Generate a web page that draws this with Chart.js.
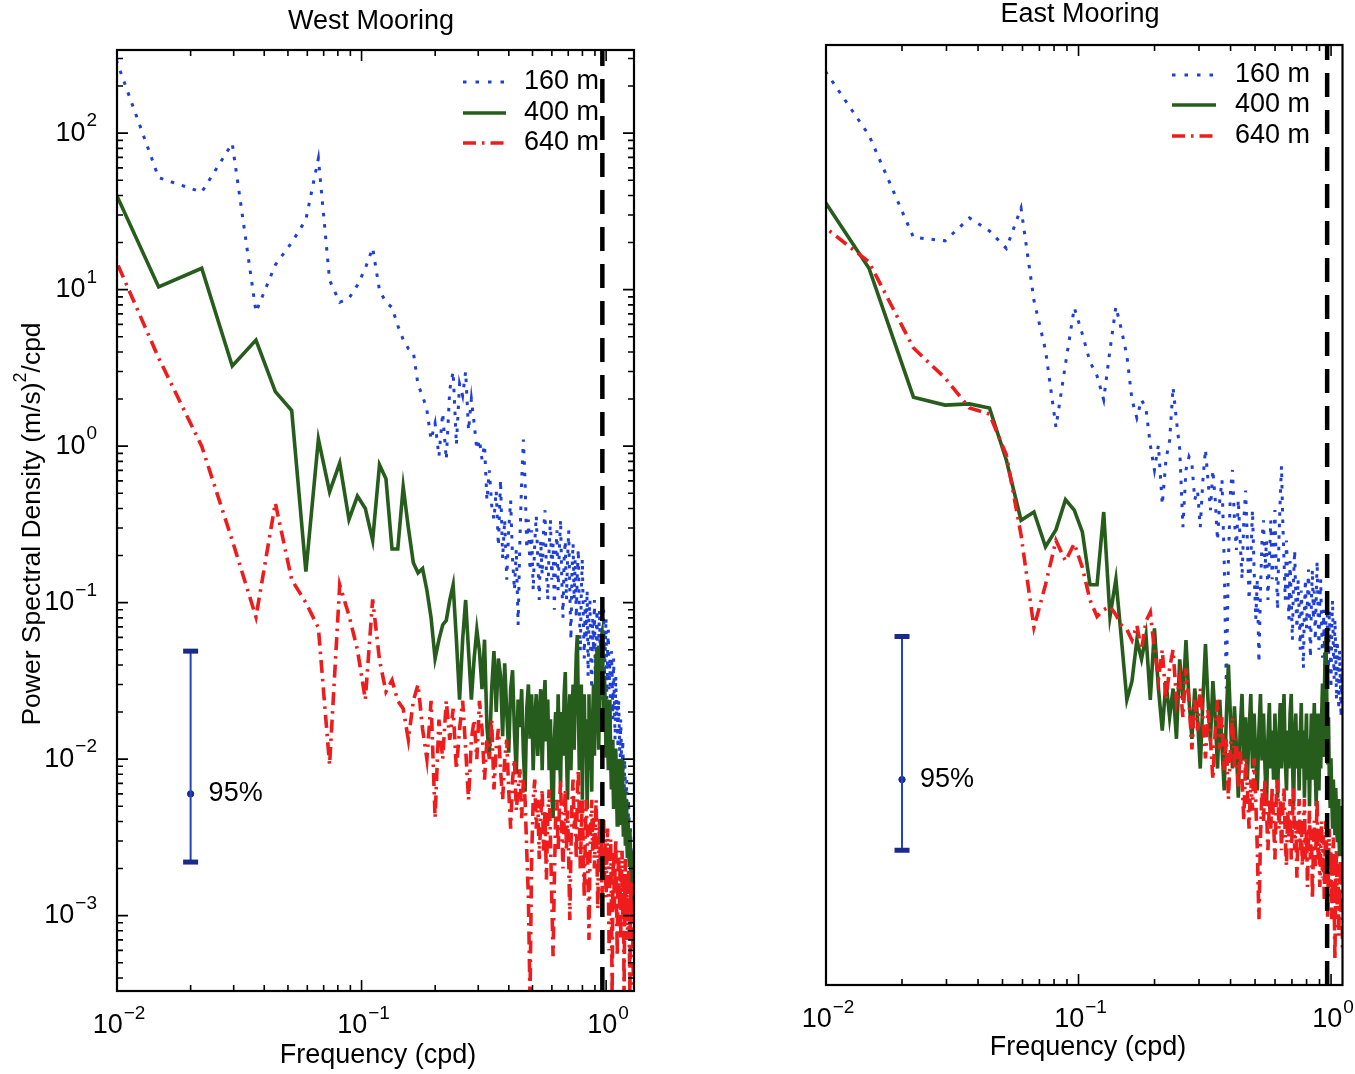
<!DOCTYPE html>
<html>
<head>
<meta charset="utf-8">
<title>Power spectra, West and East moorings</title>
<script src="https://cdn.jsdelivr.net/npm/chart.js@4.4.1/dist/chart.umd.min.js"></script>
<style>
  html, body { margin: 0; padding: 0; background: #ffffff; }
  #wrap { position: relative; width: 1355px; height: 1074px; overflow: hidden; background: #fff; }
  canvas { position: absolute; top: 0; }
  #west { left: 0; }
  #east { left: 680px; }
</style>
</head>
<body>
<div id="wrap">
  <canvas id="west" width="680" height="1074"></canvas>
  <canvas id="east" width="675" height="1074"></canvas>
</div>
<script>
// Spectral estimate frequencies (cpd), resolution 0.0074 cpd
const freqCpd = [
  0.0074, 0.0148, 0.0222, 0.0296, 0.0370, 0.0444, 0.0518, 0.0592, 0.0666, 0.0740,
  0.0814, 0.0888, 0.0962, 0.1036, 0.1110, 0.1184, 0.1258, 0.1332, 0.1406, 0.1480,
  0.1554, 0.1628, 0.1702, 0.1776, 0.1850, 0.1924, 0.1998, 0.2072, 0.2146, 0.2220,
  0.2294, 0.2368, 0.2442, 0.2516, 0.2590, 0.2664, 0.2738, 0.2812, 0.2886, 0.2960,
  0.3034, 0.3108, 0.3182, 0.3256, 0.3330, 0.3404, 0.3478, 0.3552, 0.3626, 0.3700,
  0.3774, 0.3848, 0.3922, 0.3996, 0.4070, 0.4144, 0.4218, 0.4292, 0.4366, 0.4440,
  0.4514, 0.4588, 0.4662, 0.4736, 0.4810, 0.4884, 0.4958, 0.5032, 0.5106, 0.5180,
  0.5254, 0.5328, 0.5402, 0.5476, 0.5550, 0.5624, 0.5698, 0.5772, 0.5846, 0.5920,
  0.5994, 0.6068, 0.6142, 0.6216, 0.6290, 0.6364, 0.6438, 0.6512, 0.6586, 0.6660,
  0.6734, 0.6808, 0.6882, 0.6956, 0.7030, 0.7104, 0.7178, 0.7252, 0.7326, 0.7400,
  0.7474, 0.7548, 0.7622, 0.7696, 0.7770, 0.7844, 0.7918, 0.7992, 0.8066, 0.8140,
  0.8214, 0.8288, 0.8362, 0.8436, 0.8510, 0.8584, 0.8658, 0.8732, 0.8806, 0.8880,
  0.8954, 0.9028, 0.9102, 0.9176, 0.9250, 0.9324, 0.9398, 0.9472, 0.9546, 0.9620,
  0.9694, 0.9768, 0.9842, 0.9916, 0.9990, 1.0064, 1.0138, 1.0212, 1.0286, 1.0360,
  1.0434, 1.0508, 1.0582, 1.0656, 1.0730, 1.0804, 1.0878, 1.0952, 1.1026, 1.1100,
  1.1174, 1.1248, 1.1322, 1.1396, 1.1470, 1.1544, 1.1618, 1.1692, 1.1766, 1.1840,
  1.1914, 1.1988, 1.2062, 1.2136, 1.2210, 1.2284, 1.2358, 1.2432, 1.2506, 1.2580,
  1.2654, 1.2728, 1.2802, 1.2876, 1.2950
];

// West mooring PSD, (m/s)^2/cpd
const west160 = [
  1050, 52, 42, 86, 7.2, 14.4, 20, 28, 69, 11.5,
  8.3, 8.8, 10.7, 13.7, 18.5, 9.9, 8.3, 7.7, 5.9, 4.8,
  4.2, 4.0, 2.45, 2.1, 1.7, 1.1, 1.4, 0.86, 1.63, 0.82,
  2.3, 3.0, 1.02, 2.5, 2.1, 3.0, 1.26, 2.0, 1.4, 0.95,
  1.1, 0.82, 1.02, 0.45, 0.7, 0.42, 0.34, 0.52, 0.23, 0.61,
  0.19, 0.34, 0.14, 0.29, 0.45, 0.19, 0.12, 0.22, 0.072, 0.25,
  0.6, 1.1, 0.6, 0.22, 0.34, 0.16, 0.29, 0.12, 0.24, 0.36,
  0.19, 0.104, 0.25, 0.15, 0.29, 0.39, 0.16, 0.104, 0.22, 0.34,
  0.14, 0.24, 0.09, 0.19, 0.29, 0.12, 0.22, 0.34, 0.14, 0.08,
  0.19, 0.25, 0.104, 0.19, 0.29, 0.12, 0.058, 0.16, 0.24, 0.104,
  0.19, 0.08, 0.15, 0.22, 0.09, 0.049, 0.12, 0.19, 0.08, 0.044,
  0.104, 0.058, 0.12, 0.034, 0.08, 0.104, 0.044, 0.028, 0.08, 0.049,
  0.104, 0.034, 0.058, 0.09, 0.028, 0.058, 0.09, 0.037, 0.067, 0.024,
  0.058, 0.09, 0.034, 0.049, 0.08, 0.024, 0.049, 0.067, 0.028, 0.044,
  0.018, 0.049, 0.034, 0.018, 0.044, 0.024, 0.0133, 0.034, 0.018, 0.024,
  0.0117, 0.024, 0.0156, 0.0086, 0.018, 0.0117, 0.0064, 0.0133, 0.0086, 0.0055,
  0.010, 0.0064, 0.0042, 0.0074, 0.0047, 0.0031, 0.0055, 0.0036, 0.0023, 0.0036,
  0.0026, 0.0017, 0.0026, 0.002, 0.0015
];
const west400 = [
  111, 10.4, 13.7, 3.25, 4.76, 2.23, 1.69, 0.158, 1.11, 0.51,
  0.78, 0.34, 0.48, 0.40, 0.25, 0.76, 0.62, 0.22, 0.22, 0.55,
  0.3, 0.18, 0.155, 0.165, 0.12, 0.08, 0.044, 0.058, 0.072, 0.077,
  0.104, 0.13, 0.058, 0.024, 0.058, 0.104, 0.049, 0.024, 0.044, 0.067,
  0.049, 0.028, 0.058, 0.016, 0.0105, 0.028, 0.049, 0.02, 0.044, 0.034,
  0.014, 0.041, 0.02, 0.011, 0.028, 0.037, 0.015, 0.008, 0.024, 0.016,
  0.028, 0.011, 0.0062, 0.021, 0.03, 0.0135, 0.026, 0.0085, 0.018, 0.026,
  0.0105, 0.018, 0.028, 0.0085, 0.021, 0.032, 0.013, 0.024, 0.0085, 0.018,
  0.0062, 0.0042, 0.0133, 0.02, 0.0085, 0.026, 0.0115, 0.007, 0.02, 0.0105,
  0.026, 0.036, 0.0115, 0.0055, 0.018, 0.026, 0.0085, 0.018, 0.03, 0.0115,
  0.026, 0.046, 0.062, 0.022, 0.0085, 0.018, 0.03, 0.0055, 0.0156, 0.026,
  0.0105, 0.018, 0.0048, 0.0133, 0.026, 0.0085, 0.0156, 0.0062, 0.018, 0.03,
  0.0105, 0.024, 0.046, 0.052, 0.022, 0.0115, 0.028, 0.046, 0.06, 0.064,
  0.034, 0.016, 0.034, 0.022, 0.0105, 0.024, 0.0145, 0.0085, 0.018, 0.024,
  0.0105, 0.0064, 0.0133, 0.0085, 0.0048, 0.010, 0.0056, 0.0117, 0.0064, 0.0038,
  0.0074, 0.0048, 0.010, 0.0056, 0.0038, 0.0064, 0.010, 0.0048, 0.0032, 0.0064,
  0.0044, 0.0028, 0.0055, 0.0033, 0.0024, 0.0042, 0.0029, 0.0021, 0.0036, 0.0024,
  0.0016, 0.0026, 0.0019, 0.0012, 0.0017
];
const west640 = [
  43.4, 3.66, 1.0, 0.25, 0.081, 0.434, 0.14, 0.1, 0.069, 0.0092,
  0.13, 0.083, 0.05, 0.024, 0.105, 0.043, 0.027, 0.032, 0.0236, 0.021,
  0.0133, 0.0236, 0.03, 0.0156, 0.010, 0.0236, 0.0042, 0.0179, 0.010, 0.0236,
  0.0133, 0.021, 0.0086, 0.0156, 0.0236, 0.0117, 0.0055, 0.0133, 0.0179, 0.010,
  0.0236, 0.0156, 0.0074, 0.0133, 0.010, 0.0179, 0.0064, 0.0117, 0.0156, 0.0086,
  0.0055, 0.010, 0.0133, 0.0064, 0.0036, 0.0074, 0.010, 0.0047, 0.0064, 0.0086,
  0.0042, 0.0074, 0.0055, 0.0026, 0.0013, 0.0003, 0.0023, 0.0055, 0.0074, 0.0036,
  0.0055, 0.0023, 0.0042, 0.0064, 0.0026, 0.0047, 0.0017, 0.0042, 0.0064, 0.0031,
  0.0013, 0.00055, 0.0017, 0.0042, 0.0055, 0.0026, 0.0047, 0.0074, 0.0036, 0.002,
  0.0042, 0.0064, 0.0026, 0.0047, 0.0023, 0.00094, 0.0026, 0.0055, 0.0074, 0.0036,
  0.0047, 0.0023, 0.0055, 0.0086, 0.0042, 0.002, 0.0036, 0.0055, 0.0026, 0.0013,
  0.0031, 0.0055, 0.0036, 0.0017, 0.0007, 0.0023, 0.0042, 0.0055, 0.0026, 0.0042,
  0.002, 0.0036, 0.0055, 0.0023, 0.0011, 0.0026, 0.0042, 0.002, 0.0031, 0.0013,
  0.0026, 0.0042, 0.0017, 0.0031, 0.0013, 0.0023, 0.0036, 0.0015, 0.0006, 0.002,
  0.0031, 0.0013, 0.0003, 0.0017, 0.0026, 0.0011, 0.002, 0.0031, 0.0013, 0.00055,
  0.0017, 0.0026, 0.0011, 0.002, 0.0007, 0.0017, 0.0026, 0.00094, 0.0017, 0.0003,
  0.0013, 0.0023, 0.00094, 0.0017, 0.0007, 0.0013, 0.002, 0.0008, 0.0003, 0.0013,
  0.0017, 0.0007, 0.0013, 0.00055, 0.00034
];

// East mooring PSD, (m/s)^2/cpd
const east160 = [
  465, 90, 20, 19, 26.6, 22, 17, 30.8, 7.9, 3.8,
  1.22, 3.1, 7.1, 4.8, 3.2, 2.6, 1.83, 3.8, 7.2, 5.1,
  3.5, 1.83, 1.4, 1.83, 1.6, 0.94, 0.65, 0.94, 0.39, 0.76,
  1.0, 2.2, 1.35, 0.88, 0.28, 0.65, 0.79, 0.71, 0.42, 0.48,
  0.28, 0.56, 0.88, 0.56, 0.36, 0.65, 0.42, 0.23, 0.42, 0.56,
  0.17, 0.026, 0.17, 0.48, 0.65, 0.31, 0.2, 0.42, 0.23, 0.13,
  0.31, 0.48, 0.23, 0.096, 0.17, 0.36, 0.15, 0.072, 0.13, 0.038,
  0.11, 0.23, 0.31, 0.15, 0.23, 0.096, 0.17, 0.31, 0.13, 0.2,
  0.36, 0.15, 0.083, 0.23, 0.42, 0.69, 0.31, 0.17, 0.096, 0.23,
  0.13, 0.072, 0.17, 0.096, 0.053, 0.13, 0.2, 0.096, 0.063, 0.13,
  0.083, 0.046, 0.11, 0.072, 0.035, 0.083, 0.13, 0.063, 0.096, 0.15,
  0.072, 0.041, 0.096, 0.15, 0.072, 0.11, 0.053, 0.096, 0.17, 0.083,
  0.046, 0.096, 0.13, 0.063, 0.041, 0.083, 0.053, 0.03, 0.072, 0.11,
  0.053, 0.035, 0.083, 0.053, 0.026, 0.063, 0.096, 0.046, 0.03, 0.072,
  0.046, 0.022, 0.053, 0.035, 0.019, 0.046, 0.03, 0.017, 0.035, 0.022,
  0.0124, 0.022
];
const east400 = [
  69, 12.7, 1.9, 1.69, 1.72, 1.62, 0.75, 0.31, 0.35, 0.21,
  0.27, 0.42, 0.36, 0.26, 0.12, 0.12, 0.35, 0.075, 0.13, 0.053,
  0.022, 0.029, 0.053, 0.04, 0.057, 0.022, 0.063, 0.026, 0.014, 0.029,
  0.017, 0.026, 0.0124, 0.04, 0.022, 0.053, 0.022, 0.0124, 0.026, 0.017,
  0.008, 0.022, 0.05, 0.022, 0.012, 0.029, 0.017, 0.008, 0.022, 0.011,
  0.0058, 0.017, 0.037, 0.017, 0.008, 0.02, 0.011, 0.0052, 0.014, 0.024,
  0.009, 0.017, 0.0068, 0.014, 0.024, 0.008, 0.018, 0.0095, 0.0058, 0.014,
  0.024, 0.009, 0.018, 0.008, 0.0046, 0.0124, 0.021, 0.008, 0.014, 0.0068,
  0.018, 0.0095, 0.0052, 0.0124, 0.021, 0.008, 0.014, 0.024, 0.0095, 0.0058,
  0.014, 0.008, 0.018, 0.024, 0.0095, 0.0046, 0.0124, 0.018, 0.008, 0.014,
  0.0058, 0.0124, 0.021, 0.008, 0.014, 0.0052, 0.0105, 0.018, 0.0068, 0.0124,
  0.0046, 0.0105, 0.018, 0.0068, 0.0124, 0.021, 0.008, 0.0046, 0.0105, 0.018,
  0.0058, 0.0124, 0.008, 0.017, 0.028, 0.0095, 0.022, 0.042, 0.056, 0.022,
  0.0085, 0.017, 0.0068, 0.0046, 0.0093, 0.0055, 0.0033, 0.0068, 0.0046, 0.003,
  0.006, 0.0042, 0.0027, 0.0051, 0.0033, 0.0022, 0.0046, 0.003, 0.0022, 0.0036,
  0.0027, 0.0033
];
const east640 = [
  33.6, 13.9, 3.92, 2.52, 1.62, 1.48, 0.81, 0.25, 0.064, 0.12,
  0.23, 0.17, 0.22, 0.154, 0.096, 0.075, 0.083, 0.087, 0.077, 0.066,
  0.062, 0.053, 0.066, 0.046, 0.07, 0.08, 0.046, 0.03, 0.046, 0.022,
  0.035, 0.046, 0.022, 0.03, 0.017, 0.035, 0.022, 0.0106, 0.022, 0.014,
  0.026, 0.017, 0.0093, 0.019, 0.0124, 0.0068, 0.014, 0.022, 0.0106, 0.017,
  0.0078, 0.0124, 0.0051, 0.0106, 0.017, 0.0078, 0.0124, 0.006, 0.0106, 0.0068,
  0.0037, 0.0093, 0.006, 0.0033, 0.0068, 0.0043, 0.0093, 0.0051, 0.0024, 0.00087,
  0.0029, 0.006, 0.0037, 0.0068, 0.0043, 0.0024, 0.0051, 0.0033, 0.006, 0.0037,
  0.0021, 0.0051, 0.0068, 0.0033, 0.0051, 0.0024, 0.0043, 0.006, 0.0029, 0.0019,
  0.0043, 0.0029, 0.0051, 0.0021, 0.0037, 0.006, 0.0024, 0.0037, 0.0016, 0.0033,
  0.0051, 0.0024, 0.0037, 0.0019, 0.0033, 0.0051, 0.0021, 0.0033, 0.0014, 0.0029,
  0.0043, 0.0021, 0.0033, 0.00117, 0.0024, 0.0037, 0.0019, 0.0029, 0.0051, 0.0021,
  0.0033, 0.0014, 0.0024, 0.0037, 0.0016, 0.0029, 0.00117, 0.0024, 0.0037, 0.0019,
  0.00087, 0.0021, 0.0033, 0.0014, 0.0024, 0.00087, 0.0019, 0.0029, 0.00117, 0.00048,
  0.0016, 0.0024, 0.001, 0.0019, 0.00068, 0.0014, 0.0021, 0.00087, 0.0016, 0.00056,
  0.00117, 0.0019
];

const seriesLabels = ['160 m', '400 m', '640 m'];

// Local inertial frequency (cpd), drawn as the dashed vertical line
const inertialFreq = 0.965;

// 95% confidence bar: frequency, then [upper, centre, lower]
const ciFreq = 0.02;
const westCI = [0.049, 0.006, 0.0022];
const eastCI = [0.056, 0.0068, 0.0024];
const ciLabel = '95%';

// Axis ranges and decade labels
const westFreqRange = [0.01, 1.3];
const eastFreqRange = [0.01, 1.11];
const psdRange = [3.3e-4, 340];
const freqDecades = [-2, -1, 0];
const psdDecades = [2, 1, 0, -1, -2, -3];

const FONT = 'Arial, "Liberation Sans", Helvetica, sans-serif';
const COLORS = { s160: '#1f40d8', s400: '#275d1c', s640: '#ee1c1c', ciLine: '#2443c4', ciCap: '#1a2a8c' };

function pairs(values) {
  return values.map((v, i) => ({ x: freqCpd[i], y: v }));
}

function expText(e) {
  return e < 0 ? '\u2212' + Math.abs(e) : String(e);
}

// "10" with a raised exponent; (x, y) = anchor, y is the middle of "10"
function drawPow(ctx, e, x, y, align, size) {
  const sup = Math.round(size * 0.72);
  ctx.font = size + 'px ' + FONT;
  const wb = ctx.measureText('10').width;
  ctx.font = sup + 'px ' + FONT;
  const ex = expText(e);
  const we = ctx.measureText(ex).width;
  const total = wb + 1 + we;
  const x0 = align === 'center' ? x - total / 2 : x - total;
  ctx.textAlign = 'left';
  ctx.textBaseline = 'middle';
  ctx.fillStyle = '#000';
  ctx.font = size + 'px ' + FONT;
  ctx.fillText('10', x0, y);
  ctx.font = sup + 'px ' + FONT;
  ctx.fillText(ex, x0 + wb + 1, y - size * 0.45);
}

function logTicks(min, max) {
  const out = [];
  for (let e = Math.floor(Math.log10(min)); e <= Math.ceil(Math.log10(max)); e++) {
    for (let m = 1; m <= 9; m++) {
      const v = m * Math.pow(10, e);
      if (v >= min * 0.9999 && v <= max * 1.0001) out.push({ v, major: m === 1 });
    }
  }
  return out;
}

// Frame, inward ticks, decade labels, titles, legend and the CI label
const panelDecor = {
  id: 'panelDecor',
  afterDatasetsDraw(chart, args, o) {
    const ctx = chart.ctx;
    const a = chart.chartArea;
    const xs = chart.scales.x, ys = chart.scales.y;
    ctx.save();

    ctx.strokeStyle = '#000';
    ctx.lineWidth = 1.6;
    ctx.setLineDash([]);
    ctx.beginPath();
    for (const t of logTicks(xs.min, xs.max)) {
      const px = xs.getPixelForValue(t.v);
      const len = t.major ? 11 : 6;
      ctx.moveTo(px, a.bottom); ctx.lineTo(px, a.bottom - len);
      ctx.moveTo(px, a.top); ctx.lineTo(px, a.top + len);
    }
    if (o.yTicks) {
      for (const t of logTicks(ys.min, ys.max)) {
        const py = ys.getPixelForValue(t.v);
        const len = t.major ? 11 : 6;
        ctx.moveTo(a.left, py); ctx.lineTo(a.left + len, py);
        ctx.moveTo(a.right, py); ctx.lineTo(a.right - len, py);
      }
    }
    ctx.stroke();

    ctx.lineWidth = 2.2;
    ctx.strokeRect(a.left, a.top, a.right - a.left, a.bottom - a.top);

    for (const e of freqDecades) {
      const px = xs.getPixelForValue(Math.pow(10, e));
      drawPow(ctx, e, px + 2, o.xLabelY, 'center', 27);
    }
    if (o.yTicks) {
      for (const e of psdDecades) {
        const py = ys.getPixelForValue(Math.pow(10, e));
        drawPow(ctx, e, o.yLabelRight, py, 'right', 27);
      }
    }

    ctx.fillStyle = '#000';
    ctx.textAlign = 'center';
    ctx.textBaseline = 'middle';
    ctx.font = '27px ' + FONT;
    ctx.fillText(o.title, o.titleX, o.titleY);
    ctx.fillText('Frequency (cpd)', o.xTitleX, o.xTitleY);

    if (o.yTitle) {
      ctx.save();
      ctx.translate(o.yTitleX, o.yTitleY);
      ctx.rotate(-Math.PI / 2);
      const p1 = 'Power Spectral Density (m/s)', p2 = '2', p3 = '/cpd';
      ctx.font = '26.5px ' + FONT;
      const w1 = ctx.measureText(p1).width, w3 = ctx.measureText(p3).width;
      ctx.font = '18px ' + FONT;
      const w2 = ctx.measureText(p2).width;
      let x0 = -(w1 + w2 + w3) / 2;
      ctx.textAlign = 'left';
      ctx.font = '26.5px ' + FONT;
      ctx.fillText(p1, x0, 0);
      ctx.font = '18px ' + FONT;
      ctx.fillText(p2, x0 + w1, -12);
      ctx.font = '26.5px ' + FONT;
      ctx.fillText(p3, x0 + w1 + w2, 0);
      ctx.restore();
    }

    // legend
    const lg = o.legend;
    ctx.textAlign = 'left';
    ctx.textBaseline = 'middle';
    lg.rows.forEach((rowY, i) => {
      const ds = chart.data.datasets[i];
      ctx.strokeStyle = ds.borderColor;
      ctx.lineWidth = ds.borderWidth;
      ctx.lineCap = 'butt';
      ctx.setLineDash(i === 0 ? [3.5, 9] : (ds.borderDash || []));
      ctx.beginPath();
      ctx.moveTo(lg.x1, rowY);
      ctx.lineTo(lg.x2, rowY);
      ctx.stroke();
      ctx.setLineDash([]);
      ctx.fillStyle = '#000';
      ctx.font = '27px ' + FONT;
      ctx.fillText(ds.label, lg.tx, rowY);
    });

    // CI label beside the centre dot
    const cx = xs.getPixelForValue(ciFreq);
    const cy = ys.getPixelForValue(o.ci[1]);
    ctx.fillStyle = '#000';
    ctx.font = '27px ' + FONT;
    ctx.fillText(ciLabel, cx + 18, cy);

    ctx.restore();
  }
};

function buildDatasets(v160, v400, v640, ci) {
  return [
    { label: seriesLabels[0], data: pairs(v160), borderColor: COLORS.s160, borderWidth: 3,
      borderDash: [3.5, 8], borderCapStyle: 'butt', order: 3 },
    { label: seriesLabels[1], data: pairs(v400), borderColor: COLORS.s400, borderWidth: 3.6,
      order: 2 },
    { label: seriesLabels[2], data: pairs(v640), borderColor: COLORS.s640, borderWidth: 3.6,
      borderDash: [13, 6, 2.5, 6], borderCapStyle: 'butt', order: 1 },
    { label: 'inertial', data: [{ x: inertialFreq, y: psdRange[0] }, { x: inertialFreq, y: psdRange[1] }],
      borderColor: '#000', borderWidth: 4.5, borderDash: [24, 13], borderCapStyle: 'butt', order: 0 },
    { label: 'ci', data: [{ x: ciFreq, y: ci[0] }, { x: ciFreq, y: ci[2] }],
      borderColor: COLORS.ciLine, borderWidth: 2, pointStyle: 'line', pointRadius: 7.5,
      pointBorderWidth: 5, pointBorderColor: COLORS.ciCap, order: 0 },
    { label: 'ci-centre', data: [{ x: ciFreq, y: ci[1] }], showLine: false,
      pointRadius: 3.2, pointBackgroundColor: COLORS.ciCap, pointBorderColor: COLORS.ciCap,
      pointBorderWidth: 1, order: 0 }
  ].map(ds => Object.assign({ pointRadius: 0, tension: 0, fill: false, clip: 0 }, ds));
}

function makePanel(canvasId, vals, ci, freqRange, padding, decor) {
  return new Chart(document.getElementById(canvasId), {
    type: 'line',
    data: { datasets: buildDatasets(vals[0], vals[1], vals[2], ci) },
    options: {
      responsive: false,
      animation: false,
      events: [],
      layout: { padding },
      plugins: { legend: { display: false }, tooltip: { enabled: false }, panelDecor: decor },
      scales: {
        x: { type: 'logarithmic', min: freqRange[0], max: freqRange[1], bounds: 'data', display: false },
        y: { type: 'logarithmic', min: psdRange[0], max: psdRange[1], bounds: 'data', display: false }
      }
    },
    plugins: [panelDecor]
  });
}

makePanel('west', [west160, west400, west640], westCI, westFreqRange,
  { left: 117, top: 50, right: 46, bottom: 83 },
  { yTicks: true, ci: westCI, title: 'West Mooring', titleX: 371, titleY: 22,
    xTitleX: 378, xTitleY: 1056, xLabelY: 1026, yLabelRight: 97,
    yTitle: true, yTitleX: 33, yTitleY: 524,
    legend: { x1: 463, x2: 506, tx: 524, rows: [82, 113, 143] } });

makePanel('east', [east160, east400, east640], eastCI, eastFreqRange,
  { left: 146, top: 45, right: 12, bottom: 89 },
  { yTicks: false, ci: eastCI, title: 'East Mooring', titleX: 400, titleY: 15,
    xTitleX: 408, xTitleY: 1048, xLabelY: 1020, yLabelRight: 0,
    yTitle: false,
    legend: { x1: 492, x2: 536, tx: 555, rows: [75, 105, 136] } });
</script>
</body>
</html>
